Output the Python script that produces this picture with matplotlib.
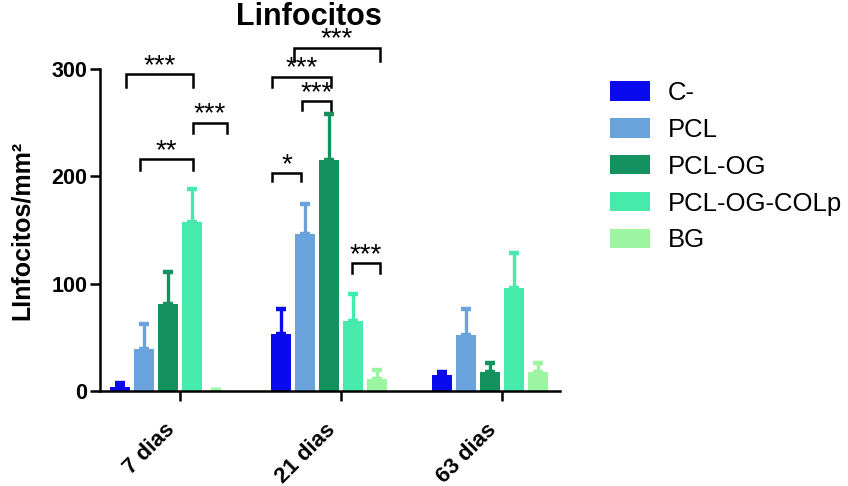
import matplotlib
matplotlib.use("Agg")
import matplotlib.pyplot as plt
import matplotlib.transforms as mtransforms
from matplotlib.patches import Patch
import numpy as np

plt.rcParams['font.family'] = ['Liberation Sans', 'DejaVu Sans']

groups = ['7 dias', '21 dias', '63 dias']
series = ['C-', 'PCL', 'PCL-OG', 'PCL-OG-COLp', 'BG']
colors = ['#0a0af0', '#6aa3dc', '#13915f', '#46eaaa', '#9cf5a0']

mean_c = [4, 53, 15]
mean_pcl = [39, 146, 52]
mean_pclog = [81, 215, 18]
mean_colp = [157, 65, 96]
mean_bg = [1, 11, 18]

err_c = [3, 23, 3]
err_pcl = [23, 28, 24]
err_pclog = [30, 43, 8]
err_colp = [31, 25, 33]
err_bg = [0, 9, 8]

means = [mean_c, mean_pcl, mean_pclog, mean_colp, mean_bg]
errs = [err_c, err_pcl, err_pclog, err_colp, err_bg]

yticks = [0, 100, 200, 300]

# significance brackets: (x1, x2, y_top, y_leg, label) in data units
brackets = [
    (-0.261, 0.155, 295, 283, '***'),
    (0.155, 0.366, 250, 240, '***'),
    (-0.174, 0.155, 216, 206, '**'),
    (0.783, 1.317, 320, 307, '***'),
    (0.646, 1.012, 293, 283, '***'),
    (0.832, 1.012, 270, 262, '***'),
    (0.646, 0.826, 203, 196, '*'),
    (1.143, 1.317, 119, 110, '***'),
]

fig = plt.figure(figsize=(8.48, 4.86), dpi=100)
ax = fig.add_axes([100/848, 1-391/486, 460/848, 322/486])

stride = 24/161
width = 20/161
x = np.arange(len(groups))
for i, (s, c, m, e) in enumerate(zip(series, colors, means, errs)):
    pos = x + (i - 2) * stride
    ax.bar(pos, m, width=width, color=c, edgecolor='none', zorder=2)
    ax.errorbar(pos, m, yerr=[np.zeros(len(e)), e], fmt='none', ecolor=c,
                elinewidth=2.4, capsize=3.8, capthick=3.2, zorder=1)

for x1, x2, yt, yl, lab in brackets:
    ax.plot([x1, x1, x2, x2], [yl, yt, yt, yl], color='black', lw=1.8,
            clip_on=False, solid_joinstyle='miter')
    ax.text((x1 + x2) / 2, yt + 1, lab, ha='center', va='baseline',
            fontsize=20, clip_on=False)

ax.set_xlim(-68/161, 392/161)
ax.set_ylim(0, 300)
ax.set_yticks(yticks)
ax.set_yticklabels([str(v) for v in yticks], fontweight='bold', fontsize=15.5)
tick_pos = x + stride / 2
ax.set_xticks(tick_pos)
ax.set_xticklabels([])
trans = mtransforms.blended_transform_factory(ax.transData, ax.transAxes)
offset = mtransforms.ScaledTranslation(-16/100, -28/100, fig.dpi_scale_trans)
for tp, g in zip(tick_pos, groups):
    ax.text(tp, 0, g, transform=trans + offset, fontweight='bold',
            fontsize=16, rotation=45, ha='right', va='top',
            rotation_mode='anchor', clip_on=False)
ax.spines['top'].set_visible(False)
ax.spines['right'].set_visible(False)
for sp in ['left', 'bottom']:
    ax.spines[sp].set_linewidth(1.8)
ax.tick_params(axis='both', direction='out', length=7.2, width=1.8, pad=2)

fig.text(309/848, 1-17/486, 'Linfocitos', ha='center', va='center',
         fontsize=22, fontweight='bold')
fig.text(22/848, 1-230/486, 'LInfocitos/mm²', ha='center', va='center',
         rotation=90, fontsize=18, fontweight='bold')

handles = [Patch(facecolor=c, edgecolor='none') for c in colors]
fig.legend(handles, series, loc='upper left',
           bbox_to_anchor=(610/848, 1-81/486), frameon=False,
           fontsize=18.5, handlelength=1.55, handleheight=0.78,
           handletextpad=0.7, labelspacing=0.5, borderpad=0,
           borderaxespad=0)

fig.savefig('out.png', dpi=100)
